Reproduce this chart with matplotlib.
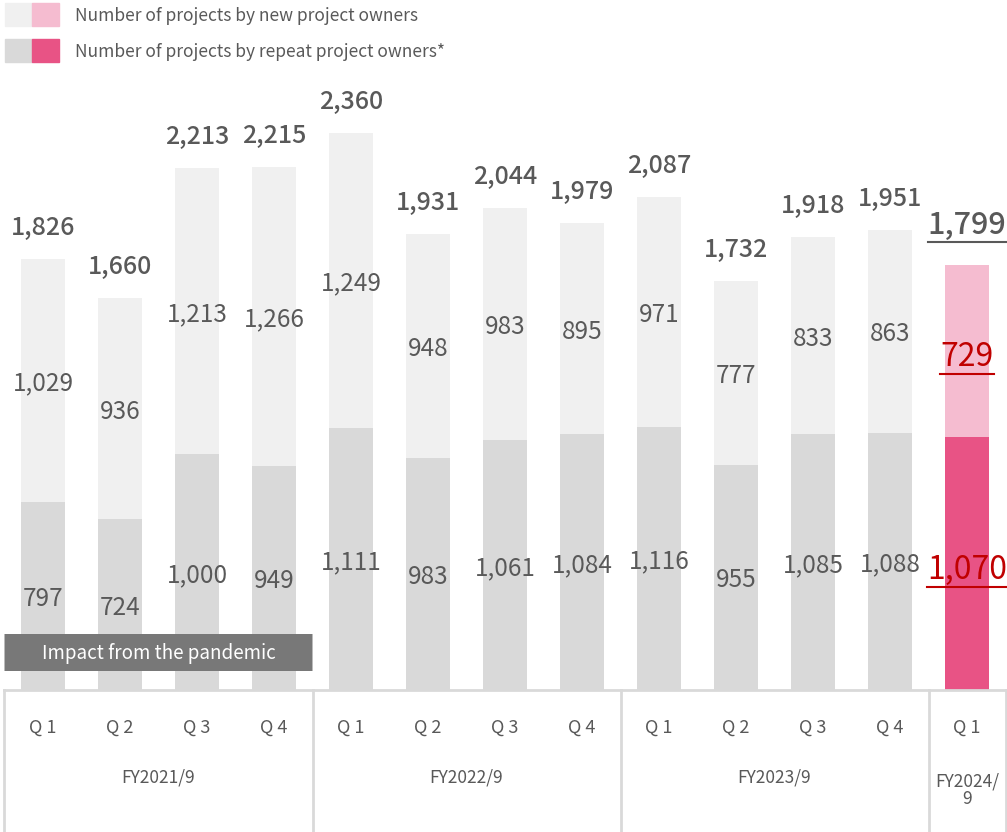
import matplotlib.pyplot as plt
from matplotlib.patches import FancyBboxPatch, Rectangle
from matplotlib.lines import Line2D

plt.rcParams['font.family'] = ['Noto Sans CJK JP', 'DejaVu Sans']

# ---------------------------------------------------------
# DATA
# ---------------------------------------------------------
quarters = ["Q 1", "Q 2", "Q 3", "Q 4"] * 3 + ["Q 1"]
fiscal_years = ["FY2021/9", "FY2022/9", "FY2023/9", "FY2024/\n9"]
fy_sizes = [4, 4, 4, 1]
repeat_owners = [797, 724, 1000, 949, 1111, 983, 1061, 1084, 1116, 955, 1085, 1088, 1070]
new_owners = [1029, 936, 1213, 1266, 1249, 948, 983, 895, 971, 777, 833, 863, 729]
totals = [1826, 1660, 2213, 2215, 2360, 1931, 2044, 1979, 2087, 1732, 1918, 1951, 1799]

# colours
NEW_GREY, REP_GREY = "#f0f0f0", "#d9d9d9"
NEW_PINK, REP_PINK = "#f5bcd0", "#e85385"
TXT, RED = "#595959", "#c00000"

# pixel scale: 0.236 px per project, baseline at 690 px, bars 77 px apart
PX = 0.236
W, H = 1007, 832
BASE = 690

def py(px_y):
    """pixel row -> data value"""
    return (BASE - px_y) / PX

fig = plt.figure(figsize=(W / 100, H / 100), dpi=100)
ax = fig.add_axes([0, 0, 1, 1])
ax.set_xlim(-43 / 77, (W - 43) / 77)
ax.set_ylim(py(H), py(0))
ax.axis("off")

n = len(totals)
last = n - 1
x = list(range(n))
new_cols = [NEW_GREY] * last + [NEW_PINK]
rep_cols = [REP_GREY] * last + [REP_PINK]

ax.bar(x, repeat_owners, width=0.56, color=rep_cols, linewidth=0)
ax.bar(x, new_owners, bottom=repeat_owners, width=0.56, color=new_cols, linewidth=0)

dn = 3 / PX  # nudge labels a few pixels down
underline = []
for i in range(n):
    r, nw, t = repeat_owners[i], new_owners[i], totals[i]
    if i < last:
        ax.text(i, r / 2 - dn, f"{r:,}", ha="center", va="center", fontsize=17.5, color=TXT)
        ax.text(i, r + nw / 2 - dn, f"{nw:,}", ha="center", va="center", fontsize=17.5, color=TXT)
        ax.text(i, t + 31 / PX, f"{t:,}", ha="center", va="center", fontsize=18, color=TXT, fontweight="medium")
    else:
        underline.append((ax.text(i, r / 2 - 2 * dn, f"{r:,}", ha="center", va="center", fontsize=23, color=RED), RED))
        underline.append((ax.text(i, r + nw / 2 - 2 * dn, f"{nw:,}", ha="center", va="center", fontsize=23, color=RED), RED))
        underline.append((ax.text(i, t + 40 / PX, f"{t:,}", ha="center", va="center", fontsize=22, color=TXT, fontweight="medium"), TXT))

# pandemic box
box = FancyBboxPatch((-0.5, py(671)), 4.0, py(634) - py(671),
                     boxstyle="round,pad=0,rounding_size=0.05", mutation_aspect=1 / PX / 77,
                     facecolor="#787878", edgecolor="none", zorder=3)
ax.add_patch(box)
ax.text(1.5, py(654), "Impact from the pandemic", ha="center", va="center",
        fontsize=13.5, color="white", zorder=4)

# category axis grid
ax.add_line(Line2D([-0.5, n - 0.5], [0, 0], color="#d9d9d9", lw=2))
edge = -0.5
ax.add_line(Line2D([edge, edge], [0, py(H)], color="#d9d9d9", lw=2))
for fy, size in zip(fiscal_years, fy_sizes):
    right = edge + size
    ax.add_line(Line2D([right, right], [0, py(H)], color="#d9d9d9", lw=2))
    yl = py(778) if "\n" not in fy else py(790)
    ax.text((edge + right) / 2, yl, fy, ha="center", va="center", fontsize=12.5,
            color=TXT, linespacing=1.0)
    edge = right
for i, q in enumerate(quarters):
    ax.text(i, py(728), q, ha="center", va="center", fontsize=13, color=TXT)

# legend
labels = ["Number of projects by new project owners", "Number of projects by repeat project owners*"]
for k, (lab, cg, cp) in enumerate(zip(labels, [NEW_GREY, REP_GREY], [NEW_PINK, REP_PINK])):
    top = 3 + k * 36
    fig.patches.append(Rectangle((5 / W, 1 - (top + 23) / H), 27 / W, 23 / H, color=cg, transform=fig.transFigure))
    fig.patches.append(Rectangle((32 / W, 1 - (top + 23) / H), 27 / W, 23 / H, color=cp, transform=fig.transFigure))
    fig.text(75 / W, 1 - (top + 13) / H, lab, ha="left", va="center", fontsize=12.5, color=TXT)

# underlines for the latest quarter
fig.canvas.draw()
inv = ax.transData.inverted()
for txt, col in underline:
    bb = txt.get_window_extent()
    (x0, y0), (x1, _) = inv.transform([(bb.x0, bb.y0), (bb.x1, bb.y1)])
    ax.add_line(Line2D([x0, x1], [y0 - 1 / PX, y0 - 1 / PX], color=col, lw=1.5))

fig.savefig("out.png", dpi=100)
